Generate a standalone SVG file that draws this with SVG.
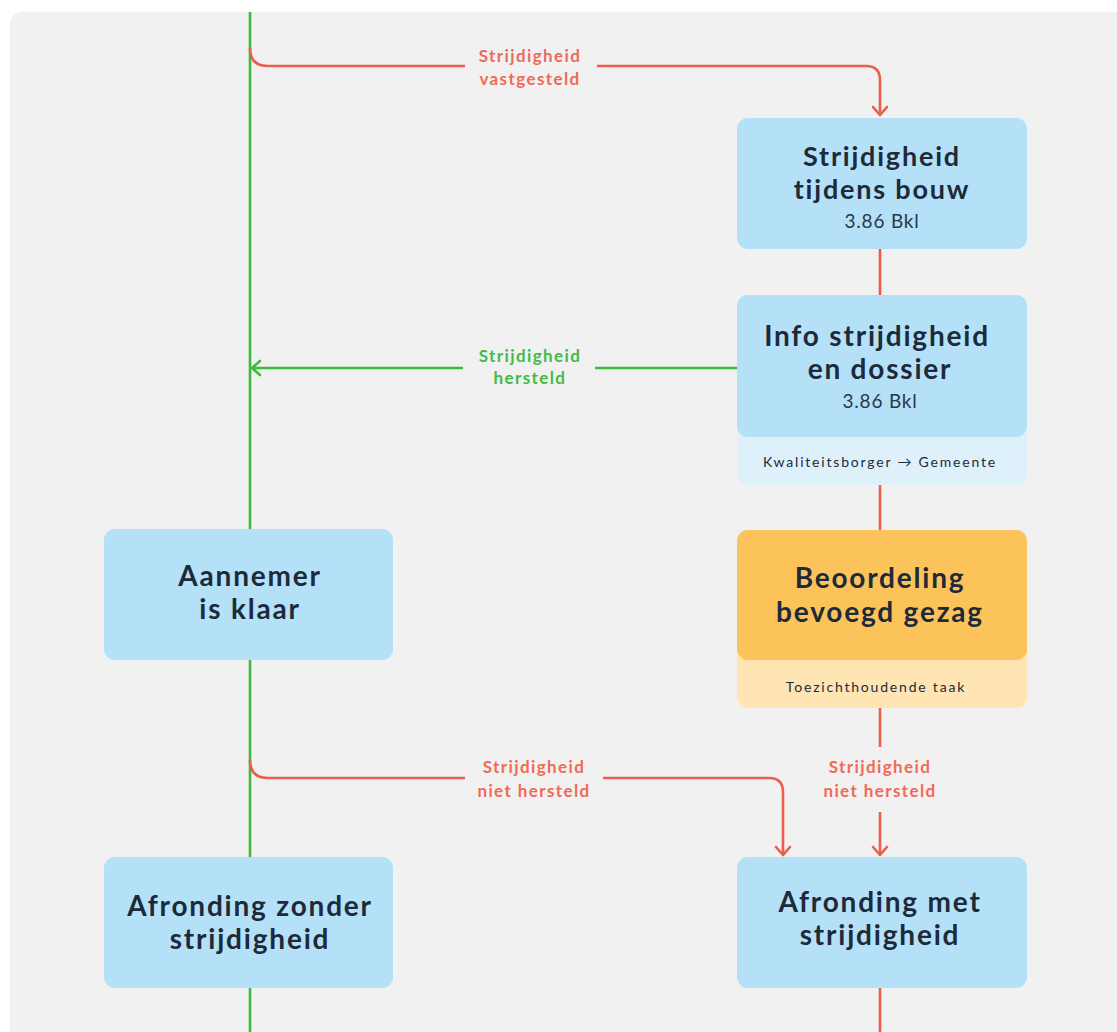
<svg xmlns="http://www.w3.org/2000/svg" width="1117" height="1032" viewBox="0 0 1117 1032">
<defs>
<marker id="ar" viewBox="0 0 12 18" refX="10" refY="9" markerWidth="12" markerHeight="18" markerUnits="userSpaceOnUse" orient="auto">
<path d="M2,2 L10,9 L2,16" fill="none" stroke="#ea5f4b" stroke-width="2.6" stroke-linecap="round" stroke-linejoin="round"/>
</marker>
<marker id="ag" viewBox="0 0 12 18" refX="10" refY="9" markerWidth="12" markerHeight="18" markerUnits="userSpaceOnUse" orient="auto">
<path d="M2,2 L10,9 L2,16" fill="none" stroke="#3fba3f" stroke-width="2.6" stroke-linecap="round" stroke-linejoin="round"/>
</marker>
</defs>
<style>
.blue{fill:#b4e1f8}
.blueS{fill:#def1fb}
.org{fill:#fdc35b}
.orgS{fill:#fee5b3}
.t{font-family:Lato,"Noto Sans",sans-serif;font-weight:700;font-size:28px;letter-spacing:1.8px;fill:#1d2a3a;text-anchor:middle}
.t1{font-size:27px}
.s{font-family:Lato,"Noto Sans",sans-serif;font-weight:400;font-size:19px;letter-spacing:0.8px;fill:#2a3747;text-anchor:middle}
.x{font-family:Lato,"Noto Sans",sans-serif;font-weight:400;font-size:14px;letter-spacing:1.8px;fill:#1d2a3a;text-anchor:middle}
.lr{font-family:Lato,"Noto Sans",sans-serif;font-weight:700;font-size:17px;letter-spacing:1.4px;fill:#ef6a57;text-anchor:middle}
.lg{font-family:Lato,"Noto Sans",sans-serif;font-weight:700;font-size:17px;letter-spacing:1.4px;fill:#44bb44;text-anchor:middle}
.r{fill:none;stroke:#ea5f4b;stroke-width:2.6}
.g{fill:none;stroke:#3fba3f;stroke-width:2.6}
</style>
<rect width="1117" height="1032" fill="#ffffff"/>
<rect x="10" y="12" width="1130" height="1050" rx="12" fill="#f1f1f1"/>
<g id="connectors">
<path class="g" d="M250,12 V1032"/>
<path class="r" d="M250,48 Q250,66 268,66 H465"/>
<path class="r" d="M597,66 H866 Q880,66 880,80 V115" marker-end="url(#ar)"/>
<path class="r" d="M880,249 V295"/>
<path class="g" d="M737,368 H595"/>
<path class="g" d="M463,368 H252" marker-end="url(#ag)"/>
<path class="r" d="M880,485 V530"/>
<path class="r" d="M880,708 V747"/>
<path class="r" d="M880,812 V855" marker-end="url(#ar)"/>
<path class="r" d="M250,760 Q250,778 268,778 H465"/>
<path class="r" d="M603,778 H769 Q783,778 783,792 V855" marker-end="url(#ar)"/>
<path class="r" d="M880,988 V1032"/>
<text class="lr" x="530" y="62">Strijdigheid</text>
<text class="lr" x="530" y="85">vastgesteld</text>
<text class="lg" x="530" y="362">Strijdigheid</text>
<text class="lg" x="530" y="384">hersteld</text>
<text class="lr" x="534" y="773">Strijdigheid</text>
<text class="lr" x="534" y="797">niet hersteld</text>
<text class="lr" x="880" y="773">Strijdigheid</text>
<text class="lr" x="880" y="797">niet hersteld</text>
</g>
<g id="n1">
<rect class="blue" x="737" y="118" width="290" height="131" rx="11"/>
<text class="t t1" x="882" y="166">Strijdigheid</text>
<text class="t t1" x="882" y="199">tijdens bouw</text>
<text class="s" x="882" y="228">3.86 Bkl</text>
</g>
<g id="n2">
<rect class="blueS" x="737" y="295" width="290" height="190" rx="11"/>
<rect class="blue" x="737" y="295" width="290" height="142" rx="11"/>
<text class="t" x="877" y="346">Info strijdigheid</text>
<text class="t" x="880" y="379">en dossier</text>
<text class="s" x="880" y="408">3.86 Bkl</text>
<text class="x" x="880" y="467">Kwaliteitsborger → Gemeente</text>
</g>
<g id="n3">
<rect class="orgS" x="737" y="530" width="290" height="178" rx="11"/>
<rect class="org" x="737" y="530" width="290" height="130" rx="11"/>
<text class="t" x="880" y="588">Beoordeling</text>
<text class="t" x="880" y="622">bevoegd gezag</text>
<text class="x" x="876" y="692">Toezichthoudende taak</text>
</g>
<g id="n4">
<rect class="blue" x="104" y="529" width="289" height="131" rx="11"/>
<text class="t" x="250" y="586">Aannemer</text>
<text class="t" x="250" y="619">is klaar</text>
</g>
<g id="n5">
<rect class="blue" x="104" y="857" width="289" height="131" rx="11"/>
<text class="t" x="250" y="916">Afronding zonder</text>
<text class="t" x="250" y="949">strijdigheid</text>
</g>
<g id="n6">
<rect class="blue" x="737" y="857" width="290" height="131" rx="11"/>
<text class="t" x="880" y="912">Afronding met</text>
<text class="t" x="880" y="945">strijdigheid</text>
</g>
</svg>
